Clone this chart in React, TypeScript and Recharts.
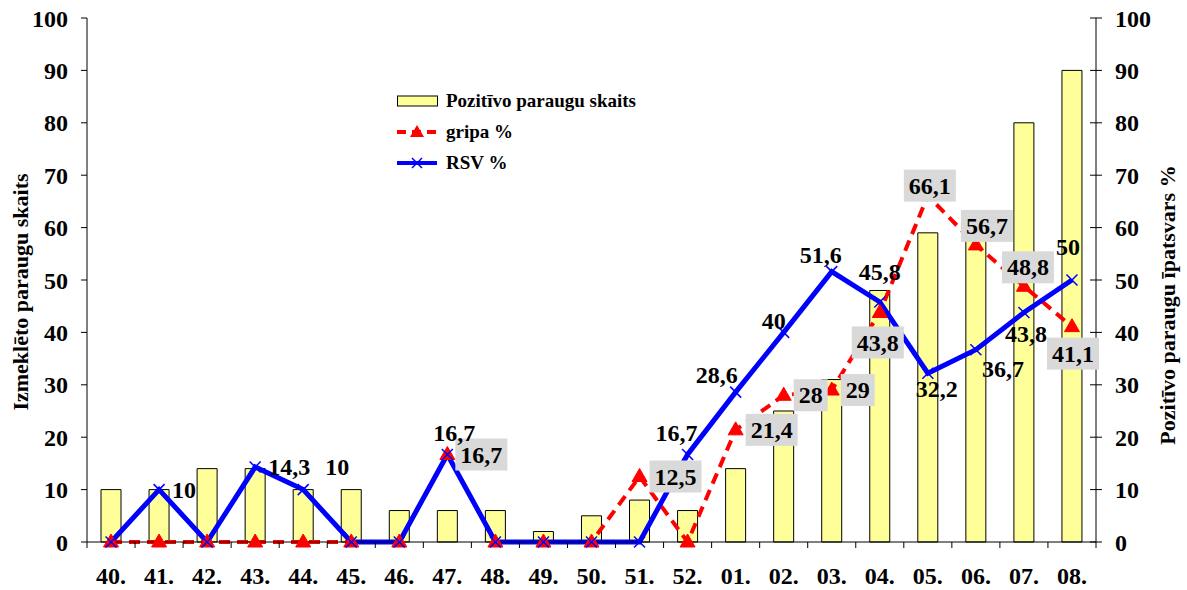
import React from 'react';
import { ComposedChart, Bar, Line, XAxis, YAxis, Label } from 'recharts';

// ---------- data ----------
const weeks = ['40.', '41.', '42.', '43.', '44.', '45.', '46.', '47.', '48.', '49.', '50.', '51.', '52.', '01.', '02.', '03.', '04.', '05.', '06.', '07.', '08.'];
const positiveSamples = [10, 10, 14, 14, 10, 10, 6, 6, 6, 2, 5, 8, 6, 14, 25, 31, 48, 59, 58, 80, 90];
const gripaPct = [0, 0, 0, 0, 0, 0, 0, 16.7, 0, 0, 0, 12.5, 0, 21.4, 28, 29, 43.8, 66.1, 56.7, 48.8, 41.1];
const rsvPct = [0, 10, 0, 14.3, 10, 0, 0, 16.7, 0, 0, 0, 0, 16.7, 28.6, 40, 51.6, 45.8, 32.2, 36.7, 43.8, 50];
const yTicks = [0, 10, 20, 30, 40, 50, 60, 70, 80, 90, 100];
const seriesNames = { bars: 'Pozitīvo paraugu skaits', gripa: 'gripa %', rsv: 'RSV %' };
const leftTitle = 'Izmeklēto paraugu skaits';
const rightTitle = 'Pozitīvo paraugu īpatsvars %';

// ---------- label placement (text-centre offset from the point, px) ----------
const rsvLabelOffsets: ([number, number] | null)[] = [
  null, [25, 0], null, [34, 0], [34, -23], null, null, [7, -22], null, null, null, null, [-11, -22],
  [-19, -17], [-10, -12], [-11, -17], [0, -30], [9, 16], [27, 19], [2, 21], [-4, -33],
];
const gripaLabelOffsets: ([number, number] | null)[] = [
  null, null, null, null, null, null, null, [34, 0], null, null, null, [36, 0], null,
  [36, 0], [27, 0], [26, 0], [-2, 30], [2, -10], [11, -19], [4, -19], [1, 27],
];

const data = weeks.map((w, i) => ({
  week: w,
  positive: positiveSamples[i],
  gripa: gripaPct[i],
  rsv: rsvPct[i],
}));

// ---------- layout ----------
const W = 1187;
const H = 590;
const PLOT_LEFT = 87;
const PLOT_RIGHT = 1096;
const PLOT_TOP = 18;
const PLOT_BOTTOM = 542;
const BAND = (PLOT_RIGHT - PLOT_LEFT) / weeks.length;
const FONT = '"Liberation Serif", "Times New Roman", Times, serif';
const LABEL_SIZE = 24;

const fmt = (v: number) => String(v).replace('.', ',');
const textWidth = (s: string, size: number) =>
  s.split('').reduce((a, c) => a + (c === ',' || c === '.' ? 0.25 : 0.5), 0) * size;

const TriangleDot = (props: any) => {
  const { cx, cy, index } = props;
  if (cx == null || cy == null) return <g key={`t${index}`} />;
  return (
    <path
      key={`t${index}`}
      d={`M${cx},${cy - 8} L${cx + 7.5},${cy + 5} L${cx - 7.5},${cy + 5} Z`}
      fill="#ff0000"
      stroke="#ff0000"
      strokeWidth={1}
    />
  );
};

const CrossDot = (props: any) => {
  const { cx, cy, index } = props;
  if (cx == null || cy == null) return <g key={`x${index}`} />;
  const r = 5.5;
  return (
    <g key={`x${index}`}>
      <line x1={cx - r} y1={cy - r} x2={cx + r} y2={cy + r} stroke="#0000ff" strokeWidth={1.5} />
      <line x1={cx - r} y1={cy + r} x2={cx + r} y2={cy - r} stroke="#0000ff" strokeWidth={1.5} />
    </g>
  );
};

const makeLabelDot = (values: number[], offsets: ([number, number] | null)[], boxed: boolean, prefix: string) =>
  (props: any) => {
    const { cx, cy, index } = props;
    const v = values[index];
    const off = offsets[index];
    if (cx == null || cy == null || !v || !off) return <g key={`${prefix}${index}`} />;
    const s = fmt(v);
    const tx = cx + off[0];
    const ty = cy + off[1];
    const tw = textWidth(s, LABEL_SIZE);
    return (
      <g key={`${prefix}${index}`}>
        {boxed && (
          <rect x={tx - tw / 2 - 5} y={ty - 16} width={tw + 10} height={32} fill="#d9d9d9" />
        )}
        <text
          x={tx}
          y={ty}
          dy="0.34em"
          textAnchor="middle"
          fontFamily={FONT}
          fontWeight="bold"
          fontSize={LABEL_SIZE}
          fill="#000"
        >
          {s}
        </text>
      </g>
    );
  };

const RsvLabels = makeLabelDot(rsvPct, rsvLabelOffsets, false, 'rl');
const GripaLabels = makeLabelDot(gripaPct, gripaLabelOffsets, true, 'gl');

const XTick = (props: any) => {
  const { x, y, payload } = props;
  const idx = weeks.indexOf(payload.value);
  const half = BAND / 2;
  return (
    <g>
      <line x1={x - half} x2={x - half} y1={y - 6} y2={y} stroke="#000" strokeWidth={1} />
      {idx === weeks.length - 1 && (
        <line x1={x + half} x2={x + half} y1={y - 6} y2={y} stroke="#000" strokeWidth={1} />
      )}
      <text x={x} y={y + 36} textAnchor="middle" fontFamily={FONT} fontWeight="bold" fontSize={24} fill="#000">
        {payload.value}
      </text>
    </g>
  );
};

const RightTick = (props: any) => {
  const { x, y, payload } = props;
  const axisX = x - 19;
  return (
    <g>
      <line x1={axisX - 6} x2={axisX + 6} y1={y} y2={y} stroke="#000" strokeWidth={1} />
      <text x={x} y={y} dy="0.355em" textAnchor="start" fontFamily={FONT} fontWeight="bold" fontSize={24} fill="#000">
        {payload.value}
      </text>
    </g>
  );
};

const LeftTitle = (props: any) => {
  const vb = props.viewBox || { x: 0, y: PLOT_TOP, width: PLOT_LEFT, height: PLOT_BOTTOM - PLOT_TOP };
  const cx = vb.x + 21;
  const cy = vb.y + vb.height / 2 + 12;
  return (
    <text
      x={cx}
      y={cy}
      transform={`rotate(-90 ${cx} ${cy})`}
      textAnchor="middle"
      dy="0.34em"
      fontFamily={FONT}
      fontWeight="bold"
      fontSize={22}
      fill="#000"
    >
      {leftTitle}
    </text>
  );
};

const RightTitle = (props: any) => {
  const vb = props.viewBox || { x: PLOT_RIGHT, y: PLOT_TOP, width: W - PLOT_RIGHT, height: PLOT_BOTTOM - PLOT_TOP };
  const cx = vb.x + 72;
  const cy = vb.y + vb.height / 2 + 25;
  return (
    <text
      x={cx}
      y={cy}
      transform={`rotate(-90 ${cx} ${cy})`}
      textAnchor="middle"
      dy="0.34em"
      fontFamily={FONT}
      fontWeight="bold"
      fontSize={22}
      fill="#000"
    >
      {rightTitle}
    </text>
  );
};

const LegendBox = () => {
  const rowY = [15, 46, 77];
  const tx = 49;
  const ts = { fontFamily: FONT, fontWeight: 'bold' as const, fontSize: 19, fill: '#000' };
  return (
    <svg width={270} height={92} style={{ position: 'absolute', left: 397, top: 86, overflow: 'visible' }}>
      <rect x={0.5} y={rowY[0] - 5} width={40} height={10} fill="#ffff99" stroke="#000" strokeWidth={1} />
      <text x={tx} y={rowY[0]} dy="0.34em" {...ts}>{seriesNames.bars}</text>

      <line x1={0} x2={40} y1={rowY[1]} y2={rowY[1]} stroke="#ff0000" strokeWidth={4} strokeDasharray="9 6" />
      <path d={`M20,${rowY[1] - 7} L27,${rowY[1] + 5} L13,${rowY[1] + 5} Z`} fill="#ff0000" />
      <text x={tx} y={rowY[1]} dy="0.34em" {...ts}>{seriesNames.gripa}</text>

      <line x1={0} x2={40} y1={rowY[2]} y2={rowY[2]} stroke="#0000ff" strokeWidth={4} />
      <line x1={15} x2={25} y1={rowY[2] - 5} y2={rowY[2] + 5} stroke="#0000ff" strokeWidth={1.5} />
      <line x1={15} x2={25} y1={rowY[2] + 5} y2={rowY[2] - 5} stroke="#0000ff" strokeWidth={1.5} />
      <text x={tx} y={rowY[2]} dy="0.34em" {...ts}>{seriesNames.rsv}</text>
    </svg>
  );
};

export default function App() {
  return (
    <div style={{ position: 'fixed', left: 0, top: 0, width: W, height: H, background: '#fff' }}>
      <ComposedChart
        width={W}
        height={H}
        data={data}
        margin={{ top: PLOT_TOP, right: 0, bottom: 0, left: 0 }}
        barCategoryGap={0}
      >
        <XAxis
          dataKey="week"
          height={H - PLOT_BOTTOM}
          interval={0}
          tickLine={false}
          tickSize={6}
          tickMargin={0}
          axisLine={{ stroke: '#000', strokeWidth: 1 }}
          tick={<XTick />}
        />
        <YAxis
          yAxisId="left"
          orientation="left"
          width={PLOT_LEFT}
          domain={[0, 100]}
          ticks={yTicks}
          interval={0}
          tickSize={6}
          tickMargin={13}
          axisLine={{ stroke: '#000', strokeWidth: 1 }}
          tickLine={{ stroke: '#000', strokeWidth: 1 }}
          tick={{ fontSize: 24, fontWeight: 'bold', fill: '#000', fontFamily: FONT }}
          label={<Label content={<LeftTitle />} />}
        />
        <YAxis
          yAxisId="right"
          orientation="right"
          width={W - PLOT_RIGHT}
          domain={[0, 100]}
          ticks={yTicks}
          interval={0}
          tickSize={6}
          tickMargin={13}
          tickLine={false}
          axisLine={{ stroke: '#000', strokeWidth: 1 }}
          tick={<RightTick />}
          label={<Label content={<RightTitle />} />}
        />
        <Bar
          yAxisId="left"
          dataKey="positive"
          name={seriesNames.bars}
          fill="#ffff99"
          stroke="#000"
          strokeWidth={1}
          barSize={20}
          isAnimationActive={false}
        />
        <Line
          yAxisId="right"
          dataKey="gripa"
          name={seriesNames.gripa}
          stroke="#ff0000"
          strokeWidth={4}
          strokeDasharray="11 7"
          dot={TriangleDot}
          activeDot={false}
          isAnimationActive={false}
        />
        <Line
          yAxisId="right"
          dataKey="rsv"
          name={seriesNames.rsv}
          stroke="#0000ff"
          strokeWidth={5}
          dot={CrossDot}
          activeDot={false}
          isAnimationActive={false}
        />
        <Line
          yAxisId="right"
          dataKey="gripa"
          stroke="none"
          legendType="none"
          dot={GripaLabels}
          activeDot={false}
          isAnimationActive={false}
        />
        <Line
          yAxisId="right"
          dataKey="rsv"
          stroke="none"
          legendType="none"
          dot={RsvLabels}
          activeDot={false}
          isAnimationActive={false}
        />
      </ComposedChart>
      <LegendBox />
    </div>
  );
}
